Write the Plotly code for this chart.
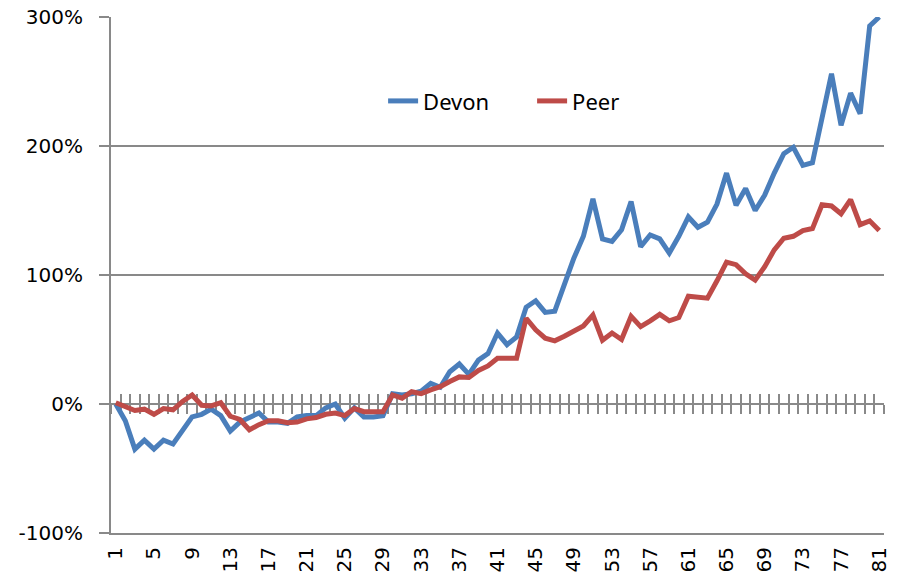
import plotly.graph_objects as go

# period index 1..81
periods = list(range(1, 82))

devon = [
    0, -13, -35, -28, -35, -28, -31, -20, -10, -8,
    -4, -9, -21, -14, -10, -7, -14, -14, -15, -10,
    -9, -9, -3, 0, -11, -3, -10, -10, -9, 8,
    7, 8, 10, 16, 13, 25, 31, 23, 34, 39,
    55, 46, 52, 75, 80, 71, 72, 93, 113, 130,
    159, 128, 126, 135, 157, 122, 131, 128, 117, 130,
    145, 137, 141, 155, 179, 154, 167, 150, 162, 179,
    194, 199, 185, 187, 223, 256, 216, 241, 225, 293,
    300,
]

peer = [
    1, -2, -5, -4, -8, -3.5, -4.5, 2, 7, -1,
    -1.5, 1, -9.5, -12, -20, -16, -13, -13, -14.5, -14,
    -11.5, -10.5, -8, -7, -9, -3.5, -6, -6, -6, 7,
    4.5, 9.5, 8, 11, 13.5, 17.5, 21, 20.5, 26, 29.5,
    35.5, 35.5, 35.5, 66.5, 57.5, 51, 49, 52.5, 56, 60.5,
    69, 49.5, 55, 50, 68, 60, 64.5, 69.5, 64.5, 67,
    83.5, 83, 82, 95.5, 110, 108, 101, 96, 106.5, 119.5,
    128.5, 130, 134.5, 136, 154.5, 153.5, 147.5, 158.5, 139, 142,
    134.5,
]

x_labels = [str(p) for p in periods if (p - 1) % 4 == 0]
y_ticks = [-100, 0, 100, 200, 300]
y_labels = ["-100%", "0%", "100%", "200%", "300%"]

grey = "#898989"
blue = "#4A7EBB"
red = "#BE4B48"

fig = go.Figure()

fig.add_trace(
    go.Scatter(
        x=periods, y=devon, mode="lines", name="Devon",
        line=dict(color=blue, width=5),
    )
)
fig.add_trace(
    go.Scatter(
        x=periods, y=peer, mode="lines", name="Peer",
        line=dict(color=red, width=5),
    )
)

# dummy traces so the zero-line axes get drawn
for ax in ["x2", "x3"]:
    fig.add_trace(
        go.Scatter(x=[1], y=[None], xaxis=ax, showlegend=False, hoverinfo="skip")
    )

xrange = [0.5, 81.5]
boundaries = [p + 0.5 for p in range(0, 82)]
zero_pos = 100 / 400

zero_axis = dict(
    overlaying="x", anchor="free", position=zero_pos, range=xrange,
    showline=True, linecolor=grey, linewidth=2,
    tickmode="array", tickvals=boundaries, ticklen=9, tickwidth=2,
    tickcolor=grey, showticklabels=False, showgrid=False, zeroline=False,
    layer="below traces", automargin=False,
)

fig.update_layout(
    width=904, height=584,
    margin=dict(l=111, r=20, t=17, b=51),
    paper_bgcolor="white", plot_bgcolor="white",
    font=dict(family="DejaVu Sans", size=20, color="black"),
    xaxis=dict(
        range=xrange, tickmode="array",
        tickvals=[int(v) for v in x_labels], ticktext=x_labels,
        tickangle=-90, ticks="", showgrid=False, zeroline=False,
        showline=True, linecolor=grey, linewidth=2,
        ticklabelstandoff=4, layer="below traces", automargin=False,
        ticklabeloverflow="allow",
    ),
    xaxis2=dict(zero_axis, ticks="outside"),
    xaxis3=dict(zero_axis, ticks="inside"),
    yaxis=dict(
        range=[-100, 300], tickmode="array", tickvals=y_ticks,
        ticktext=y_labels,
        showgrid=True, gridcolor=grey, gridwidth=2, zeroline=False,
        showline=True, linecolor=grey, linewidth=2,
        ticks="outside", ticklen=10, tickwidth=2, tickcolor=grey,
        ticklabelstandoff=12, layer="below traces", automargin=False,
        ticklabeloverflow="allow",
    ),
    legend=dict(
        orientation="h", x=0.352, y=0.837, xanchor="left", yanchor="middle",
        font=dict(family="Noto Sans", size=22),
        bgcolor="rgba(0,0,0,0)", entrywidth=104,
    ),
    showlegend=True,
)

# drop the default page margin so the figure sits at the window corner
fig.write_html(
    "out.html",
    config={"displayModeBar": False},
    post_script="document.body.style.margin = '0';",
)
